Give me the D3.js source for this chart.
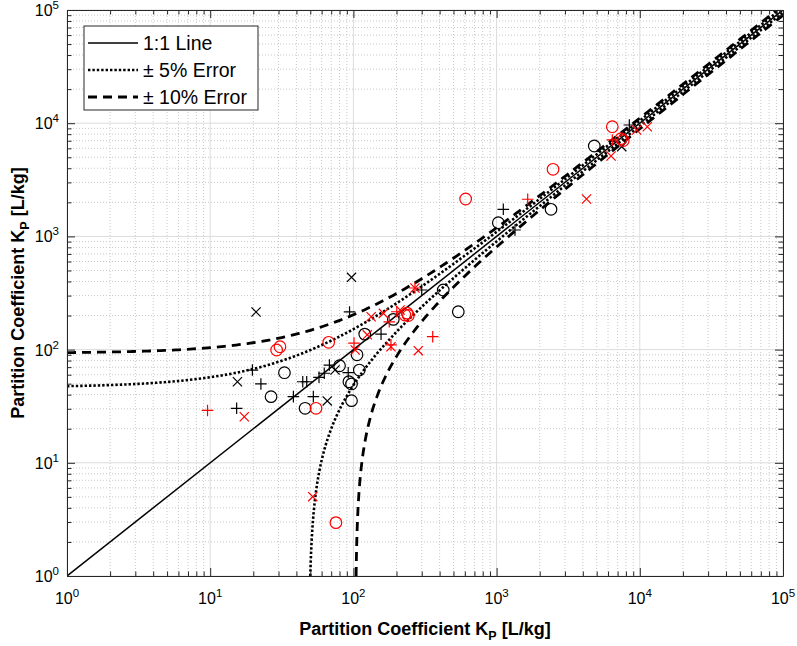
<!DOCTYPE html>
<html><head><meta charset="utf-8">
<script src="https://cdn.jsdelivr.net/npm/d3@7"></script>
<style>
body{margin:0;background:#fff}
text{font-family:Arial,"Liberation Sans",Helvetica,sans-serif;fill:#000}
</style></head>
<body><svg id="c" width="797" height="646"></svg>
<script>
// ---- data ----
const tickExponents = [0, 1, 2, 3, 4, 5];
const errorFractions = [0.05, 0.10];      // "±5%" and "±10%" error bands
const errorBase = 930;                    // additive part of the error bands
const legendLabels = ["1:1 Line", "\u00B1 5% Error", "\u00B1 10% Error"];

const blackCircleX = [1028, 2399, 4810, 424, 540, 190, 120, 106, 80, 33, 110, 93, 97, 26.6, 97, 46];
const blackCircleY = [1321, 1735, 6290, 336, 216, 185, 137, 90, 72, 62.5, 66, 52, 49.7, 38.4, 35.4, 30.3];

const blackPlusX = [8450, 1114, 1344, 94, 300, 156, 68, 19.7, 92, 22.6, 44.3, 47.2, 38.1, 52.5, 15.3, 57.5, 62.6];
const blackPlusY = [9640, 1735, 1139, 215, 336, 137, 73, 66, 62.5, 49.7, 52, 52, 38.4, 38.4, 30.3, 56.9, 61.8];

const blackCrossX = [97, 20.9, 15.5, 65.7, 74.4, 7480];
const blackCrossY = [435, 215, 52, 35.2, 66, 6210];

const redCircleX = [608, 2477, 6427, 7670, 7400, 229, 237, 242, 67.2, 29.1, 30.7, 54.8, 75.5];
const redCircleY = [2139, 3916, 9310, 7030, 7300, 202, 210, 200, 116, 99.2, 106, 30.3, 2.96];

const redPlusX = [1649, 6427, 358, 201, 178, 183, 101, 9.58, 269];
const redPlusY = [2128, 7110, 130, 216, 176, 110, 114, 29.0, 350];

const redCrossX = [4245, 6295, 9510, 11280, 269, 133, 162, 212, 125, 284, 183, 103, 17.3, 52];
const redCrossY = [2139, 5130, 8710, 9310, 350, 195, 209, 224, 135, 97.8, 106, 99.2, 25.5, 5.02];

// ---- layout ----
const W = 797, H = 646;
const m = {left: 67, top: 10, right: 14, bottom: 70};
const pw = W - m.left - m.right, ph = H - m.top - m.bottom;
const svg = d3.select("#c");
const g = svg.append("g").attr("transform", `translate(${m.left},${m.top})`);

const x = d3.scaleLog().domain([1, 1e5]).range([0, pw]);
const y = d3.scaleLog().domain([1, 1e5]).range([ph, 0]);

const majors = tickExponents.map(e => Math.pow(10, e));
const minors = [];
tickExponents.slice(0, -1).forEach(e => { for (let k = 2; k <= 9; k++) minors.push(k * Math.pow(10, e)); });

// grid
const grid = g.append("g");
grid.selectAll(".mgx").data(minors).join("line")
  .attr("x1", d => x(d)).attr("x2", d => x(d)).attr("y1", 0).attr("y2", ph)
  .attr("stroke", "#c8c8c8").attr("stroke-width", 1).attr("stroke-dasharray", "1,2");
grid.selectAll(".mgy").data(minors).join("line")
  .attr("y1", d => y(d)).attr("y2", d => y(d)).attr("x1", 0).attr("x2", pw)
  .attr("stroke", "#c8c8c8").attr("stroke-width", 1).attr("stroke-dasharray", "1,2");
grid.selectAll(".Mgx").data(majors).join("line")
  .attr("x1", d => x(d)).attr("x2", d => x(d)).attr("y1", 0).attr("y2", ph)
  .attr("stroke", "#dcdcdc").attr("stroke-width", 1);
grid.selectAll(".Mgy").data(majors).join("line")
  .attr("y1", d => y(d)).attr("y2", d => y(d)).attr("x1", 0).attr("x2", pw)
  .attr("stroke", "#dcdcdc").attr("stroke-width", 1);

// clip
svg.append("defs").append("clipPath").attr("id", "clip").append("rect")
  .attr("x", 0).attr("y", 0).attr("width", pw).attr("height", ph);
const plot = g.append("g").attr("clip-path", "url(#clip)");

const line = d3.line().x(d => x(d[0])).y(d => y(d[1]));
const ts = d3.range(0, 5.2001, 0.02);
// 1:1 line
plot.append("path").attr("d", line([[1, 1], [1e5, 1e5]]))
  .attr("fill", "none").attr("stroke", "#000").attr("stroke-width", 1.5);
const styles = [{w: 2.6, dash: "2.4,2"}, {w: 2.8, dash: "9,6"}];
errorFractions.forEach((e, i) => {
  const off = e * errorBase;
  const up = ts.map(t => { const v = Math.pow(10, t); return [v, (1 + e) * v + off]; });
  const lo = ts.map(t => { const v = Math.pow(10, t); return [(v + off) / (1 - e), v]; });
  [up, lo].forEach(pts => plot.append("path").attr("d", line(pts))
    .attr("fill", "none").attr("stroke", "#000")
    .attr("stroke-width", styles[i].w).attr("stroke-dasharray", styles[i].dash));
});

// markers
function circles(xs, ys, col) {
  plot.append("g").selectAll("circle").data(xs.map((v, i) => [v, ys[i]])).join("circle")
    .attr("cx", d => x(d[0])).attr("cy", d => y(d[1])).attr("r", 5.8)
    .attr("fill", "none").attr("stroke", col).attr("stroke-width", 1.2);
}
function plus(xs, ys, col) {
  const s = 5.8;
  plot.append("g").selectAll("path").data(xs.map((v, i) => [v, ys[i]])).join("path")
    .attr("d", d => { const cx = x(d[0]), cy = y(d[1]);
      return `M${cx - s},${cy}H${cx + s}M${cx},${cy - s}V${cy + s}`; })
    .attr("fill", "none").attr("stroke", col).attr("stroke-width", 1.2);
}
function cross(xs, ys, col) {
  const s = 4.6;
  plot.append("g").selectAll("path").data(xs.map((v, i) => [v, ys[i]])).join("path")
    .attr("d", d => { const cx = x(d[0]), cy = y(d[1]);
      return `M${cx - s},${cy - s}L${cx + s},${cy + s}M${cx - s},${cy + s}L${cx + s},${cy - s}`; })
    .attr("fill", "none").attr("stroke", col).attr("stroke-width", 1.2);
}
const RED = "#ff0000";
circles(blackCircleX, blackCircleY, "#000");
plus(blackPlusX, blackPlusY, "#000");
cross(blackCrossX, blackCrossY, "#000");
circles(redCircleX, redCircleY, RED);
plus(redPlusX, redPlusY, RED);
cross(redCrossX, redCrossY, RED);

// axes (MATLAB-like box with inward ticks)
function ax(axisGen, tr) {
  const a = g.append("g").attr("transform", tr).call(axisGen);
  a.select(".domain").attr("stroke", "#262626");
  a.selectAll(".tick line").attr("stroke", "#262626");
  a.selectAll(".tick text").remove();
  return a;
}
const tv = majors.concat(minors);
const tl = d => majors.includes(d) ? 8 : 4.5;
ax(d3.axisBottom(x).tickValues(tv).tickSizeOuter(0), `translate(0,${ph})`)
  .selectAll(".tick line").attr("y2", d => -tl(d));
ax(d3.axisTop(x).tickValues(tv).tickSizeOuter(0), `translate(0,0)`)
  .selectAll(".tick line").attr("y2", d => tl(d));
ax(d3.axisLeft(y).tickValues(tv).tickSizeOuter(0), `translate(0,0)`)
  .selectAll(".tick line").attr("x2", d => tl(d));
ax(d3.axisRight(y).tickValues(tv).tickSizeOuter(0), `translate(${pw},0)`)
  .selectAll(".tick line").attr("x2", d => -tl(d));

// tick labels
const xl = g.append("g").selectAll("text").data(tickExponents).join("text")
  .attr("x", d => x(Math.pow(10, d))).attr("y", ph + 28)
  .attr("text-anchor", "middle").attr("font-size", 16);
xl.append("tspan").text("10");
xl.append("tspan").attr("dy", -7).attr("font-size", 11.5).text(d => d);
const yl = g.append("g").selectAll("text").data(tickExponents).join("text")
  .attr("x", -8).attr("y", d => y(Math.pow(10, d)) + 6)
  .attr("text-anchor", "end").attr("font-size", 16);
yl.append("tspan").text("10");
yl.append("tspan").attr("dy", -7).attr("font-size", 11.5).text(d => d);

// axis titles
function title(sel) {
  sel.attr("font-size", 18).attr("font-weight", "bold").attr("text-anchor", "middle");
  sel.append("tspan").text("Partition Coefficient K");
  sel.append("tspan").attr("dy", 5).attr("font-size", 12.5).text("P");
  sel.append("tspan").attr("dy", -5).text(" [L/kg]");
}
svg.append("text").attr("x", m.left + pw / 2).attr("y", 635).call(title);
svg.append("text").attr("transform", `translate(24,${m.top + ph / 2}) rotate(-90)`).call(title);

// legend
const lg = svg.append("g").attr("transform", "translate(84,26)");
lg.append("rect").attr("width", 174).attr("height", 84).attr("fill", "#fff")
  .attr("stroke", "#262626").attr("stroke-width", 1);
const lstyles = [{w: 1.5, dash: null}, styles[0], styles[1]];
legendLabels.forEach((lab, i) => {
  const yy = 17 + i * 27;
  const l = lg.append("line").attr("x1", 4).attr("x2", 54).attr("y1", yy).attr("y2", yy)
    .attr("stroke", "#000").attr("stroke-width", lstyles[i].w);
  if (lstyles[i].dash) l.attr("stroke-dasharray", lstyles[i].dash);
  lg.append("text").attr("x", 59).attr("y", yy + 7).attr("font-size", 19.5).text(lab);
});
</script></body></html>
